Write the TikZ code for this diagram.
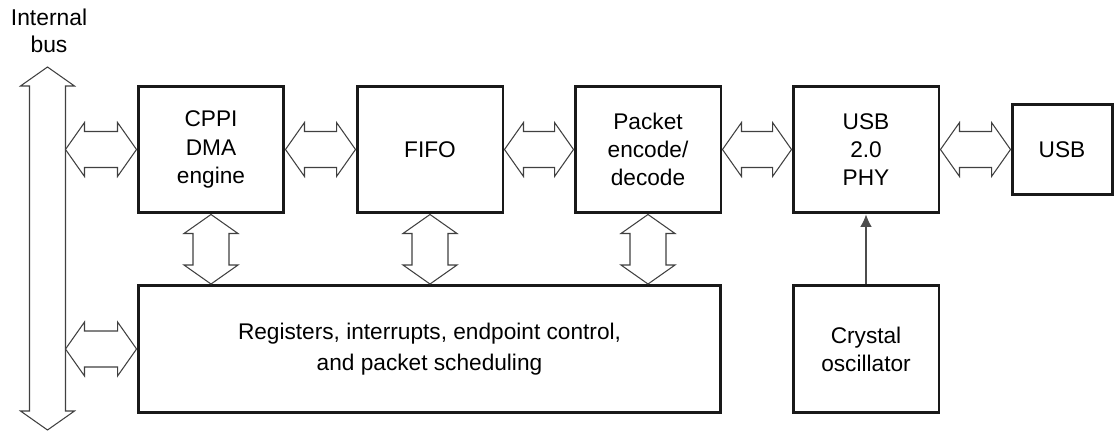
\documentclass[tikz,border=0pt]{standalone}
\usepackage{fontspec}
\setmainfont{Liberation Sans}
\usetikzlibrary{calc,positioning,arrows.meta}

\tikzset{
  block/.style={draw=black!90, line width=1.7pt, minimum width=2.92cm, minimum height=2.54cm,
    align=center, font=\fontsize{12.9}{16}\selectfont},
  busarrow/.style={draw=black!75, line width=0.6pt, fill=white},
}

% wide open double arrows (tip to tip)
\newcommand{\hlink}[2]{\draw[busarrow] (#1) -- ++(19,27) -- ++(0,-9) -- ($(#2)+(-19,18)$) -- ++(0,9) -- (#2)
  -- ++(-19,-27) -- ++(0,9) -- ($(#1)+(19,-18)$) -- ++(0,-9) -- cycle;}
\newcommand{\vlink}[2]{\draw[busarrow] (#1) -- ++(27,-19) -- ++(-9,0) -- ($(#2)+(18,19)$) -- ++(9,0) -- (#2)
  -- ++(-27,19) -- ++(9,0) -- ($(#1)+(-18,-19)$) -- ++(-9,0) -- cycle;}

\begin{document}
\begin{tikzpicture}[x=0.02cm, y=0.02cm]
    \useasboundingbox (0,0) rectangle (1114,-432);

    % Draw the internal bus
    \node[align=center, font=\fontsize{13}{15.3}\selectfont] (buslabel) at (49,-31) {Internal\\bus};
    \coordinate (bustop) at (47.5,-67);
    \coordinate (busbot) at (47.5,-430);
    \coordinate (busR) at (65.5,0);
    \vlink{bustop}{busbot}

    % Draw blocks
    \node[block] (cppi) at (211,-149.5) {CPPI\\DMA\\engine};
    \node[block] (fifo) at (430,-149.5) {FIFO};
    \node[block] (pkt) at (648,-149.5) {Packet\\encode/\\decode};
    \node[block] (phy) at (866,-149.5) {USB\\2.0\\PHY};
    \node[block, minimum width=2cm, minimum height=1.82cm] (usb) at (1062,-149.5) {USB};
    \node[block, minimum width=11.66cm, font=\fontsize{12.9}{18}\selectfont] (reg) at (429.5,-349)
      {Registers, interrupts, endpoint control,\\and packet scheduling};
    \node[block] (xtal) at (866,-349) {Crystal\\oscillator};

    % Draw horizontal links
    \hlink{busR |- cppi.west}{cppi.west}
    \hlink{busR |- reg.west}{reg.west}
    \hlink{cppi.east}{fifo.west}
    \hlink{fifo.east}{pkt.west}
    \hlink{pkt.east}{phy.west}
    \hlink{phy.east}{usb.west}

    % Draw vertical links
    \vlink{cppi.south}{cppi.south |- reg.north}
    \vlink{fifo.south}{fifo.south |- reg.north}
    \vlink{pkt.south}{pkt.south |- reg.north}

    % Draw clock line
    \draw[-{Latex[length=7pt,width=6.5pt]}, draw=black!70, line width=0.6pt] (xtal.north) -- (phy.south);
\end{tikzpicture}
\end{document}
